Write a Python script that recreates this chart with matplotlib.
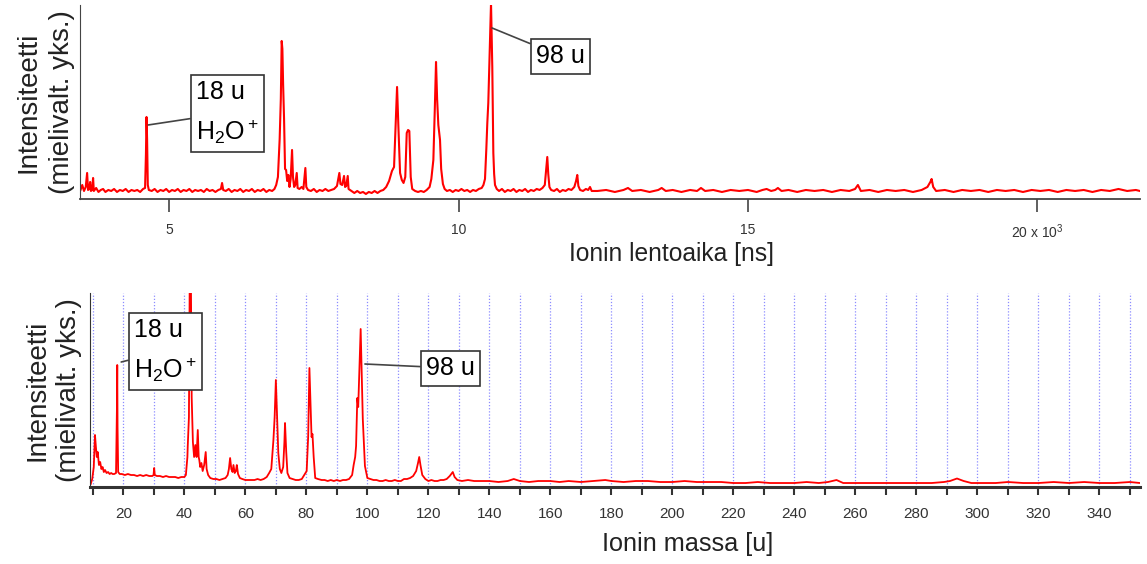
import matplotlib
matplotlib.use('Agg')
import matplotlib.pyplot as plt
from matplotlib.ticker import MultipleLocator

plt.rcParams['font.family'] = ['Liberation Sans', 'DejaVu Sans']
plt.rcParams['mathtext.fontset'] = 'custom'
plt.rcParams['mathtext.rm'] = 'Liberation Sans'
plt.rcParams['mathtext.it'] = 'Liberation Sans:italic'
plt.rcParams['mathtext.bf'] = 'Liberation Sans:bold'

# flight time spectrum (ns, arbitrary intensity)
tof_time = [
    3470, 3500, 3530, 3560, 3584, 3600, 3620, 3636, 3650, 3670, 3687, 3700, 3740, 3780, 3820, 3860,
    3900, 3950, 4000, 4050, 4100, 4150, 4200, 4250, 4300, 4350, 4400, 4450, 4500, 4550, 4585, 4600,
    4610, 4620, 4632, 4650, 4700, 4750, 4800, 4850, 4900, 4950, 5000, 5050, 5100, 5150, 5200, 5250,
    5300, 5350, 5400, 5450, 5500, 5550, 5600, 5650, 5700, 5750, 5800, 5850, 5895, 5915, 5935, 5980,
    6030, 6080, 6130, 6180, 6230, 6280, 6330, 6380, 6430, 6480, 6530, 6580, 6630, 6680, 6730, 6780,
    6820, 6850, 6880, 6910, 6930, 6945, 6957, 6970, 6986, 7003, 7021, 7040, 7060, 7080, 7100, 7124,
    7140, 7160, 7180, 7205, 7220, 7250, 7290, 7320, 7354, 7370, 7400, 7450, 7500, 7550, 7600, 7650,
    7700, 7750, 7800, 7850, 7900, 7941, 7960, 7990, 8022, 8040, 8060, 8086, 8100, 8150, 8200, 8250,
    8300, 8350, 8400, 8450, 8500, 8550, 8600, 8650, 8700, 8750, 8800, 8850, 8886, 8921, 8938, 8960,
    8990, 9020, 9050, 9080, 9105, 9128, 9150, 9174, 9200, 9250, 9300, 9350, 9400, 9450, 9500, 9530,
    9565, 9590, 9611, 9630, 9651, 9680, 9700, 9730, 9760, 9800, 9850, 9900, 9950, 10000, 10050, 10100,
    10150, 10200, 10250, 10300, 10350, 10400, 10430, 10457, 10480, 10497, 10514, 10531, 10561, 10583,
    10601, 10615, 10630, 10660, 10700, 10750, 10800, 10850, 10900, 10950, 11000, 11050, 11100, 11150,
    11200, 11250, 11300, 11350, 11400, 11450, 11490, 11515, 11533, 11550, 11570, 11600, 11650, 11700,
    11750, 11800, 11850, 11900, 11950, 12000, 12030, 12051, 12070, 12100, 12150, 12200, 12240, 12271,
    12300, 12400, 12550, 12700, 12850, 12927, 13000, 13150, 13300, 13450, 13509, 13580, 13700, 13850,
    14000, 14120, 14188, 14260, 14400, 14550, 14700, 14850, 15000, 15150, 15250, 15322, 15400, 15470,
    15517, 15580, 15700, 15850, 16000, 16150, 16300, 16450, 16600, 16750, 16850, 16899, 16950, 17100,
    17250, 17400, 17550, 17700, 17850, 18000, 18100, 18150, 18172, 18200, 18250, 18400, 18550, 18700,
    18850, 19000, 19150, 19300, 19450, 19600, 19750, 19900, 20050, 20200, 20350, 20500, 20650, 20800,
    20950, 21100, 21250, 21400, 21550, 21700, 21770,
]
tof_intensity = [
    9, 14, 8, 12, 26, 9, 10, 17, 8, 9, 21, 8, 11, 7, 9, 10,
    7, 9, 8, 10, 7, 9, 8, 10, 7, 9, 8, 9, 7, 10, 11, 45,
    82, 60, 14, 9, 8, 10, 7, 9, 8, 10, 7, 9, 8, 10, 7, 9,
    8, 10, 7, 9, 8, 9, 7, 10, 8, 9, 7, 9, 10, 16, 9, 8,
    10, 7, 9, 8, 10, 7, 9, 8, 10, 7, 9, 8, 10, 7, 9, 8,
    10, 14, 22, 60, 100, 158, 150, 114, 80, 30, 29, 18, 24, 12, 20, 49,
    22, 12, 14, 26, 11, 10, 12, 10, 31, 12, 9, 8, 10, 7, 9, 8,
    10, 8, 9, 10, 13, 26, 15, 14, 23, 12, 13, 23, 10, 8, 6, 8,
    6, 7, 5, 7, 6, 8, 6, 8, 9, 12, 18, 28, 32, 86, 112, 74,
    26, 19, 16, 22, 66, 69, 68, 22, 10, 8, 7, 8, 7, 9, 12, 20,
    39, 90, 137, 100, 74, 59, 30, 15, 10, 8, 9, 7, 9, 8, 10, 8,
    9, 7, 9, 8, 10, 11, 14, 20, 50, 76, 96, 132, 196, 132,
    46, 25, 14, 10, 8, 10, 7, 9, 8, 10, 7, 9, 8, 10,
    7, 9, 8, 10, 9, 11, 14, 30, 42, 25, 12, 9, 8, 10,
    7, 9, 8, 10, 9, 12, 18, 24, 13, 9, 8, 10, 9, 12,
    8, 8, 9, 7, 9, 11, 8, 9, 7, 9, 11, 8, 9, 7,
    9, 8, 11, 8, 9, 7, 9, 8, 9, 7, 9, 10, 8, 9,
    11, 8, 9, 7, 9, 8, 9, 7, 9, 8, 10, 14, 8, 9,
    7, 9, 8, 9, 7, 9, 12, 17, 20, 12, 8, 9, 7, 9,
    8, 9, 7, 9, 8, 9, 7, 9, 8, 9, 7, 9, 8, 9,
    7, 9, 8, 10, 8, 9, 8,
]

# mass spectrum (u, arbitrary intensity)
mass = [
    9.3, 9.8, 10.3, 10.7, 11.0, 11.3, 11.6, 12.0, 12.4, 12.8, 13.2, 13.6, 14.0, 14.5, 15.0, 15.5,
    16.0, 16.5, 17.0, 17.6, 17.9, 18.0, 18.1, 18.3, 18.8, 19.5, 20.5, 21.5, 22.5, 23.5, 24.5, 25.5,
    26.5, 27.5, 28.5, 29.5, 29.9, 30.1, 30.3, 31, 32, 33, 34, 35, 36, 37, 38, 39,
    40, 40.5, 41.0, 41.1, 41.5, 41.8, 42.1, 42.4, 42.8, 43.2, 43.6, 44.0, 44.4, 44.7, 44.9, 45.2,
    45.6, 46.0, 46.5, 47.0, 47.3, 47.8, 48.5, 49.5, 50.5, 51.5, 52.5, 53.5, 54.2, 54.6, 55.0, 55.4,
    55.8, 56.1, 56.5, 56.9, 57.2, 57.6, 58.2, 59, 60, 61, 62, 63, 64, 65, 66, 67,
    67.8, 68.5, 69.2, 69.6, 70.0, 70.3, 70.8, 71.3, 71.8, 72.4, 72.8, 73.0, 73.4, 73.8, 74.5, 75.5,
    76.5, 77.5, 78.5, 79.3, 80.1, 80.6, 81.0, 81.4, 81.7, 82.0, 82.4, 82.9, 83.8, 85, 86, 87,
    88, 89, 90, 91, 92, 93, 94, 95, 95.5, 96.0, 96.3, 96.7, 97.0, 97.4, 97.8, 98.1,
    98.5, 99.2, 100.0, 101, 102, 103, 104, 105, 106, 107, 108, 109, 110, 111, 112, 113,
    114, 115, 116, 116.6, 117.0, 117.4, 118, 119, 120, 121, 122, 123, 124, 125, 126, 127,
    128, 128.6, 129.5, 131, 133, 135, 137, 140, 143, 146, 148, 150, 153, 156, 160, 163,
    166, 170, 174, 178, 180, 184, 188, 192, 196, 200, 204, 208, 212, 216, 220, 224,
    228, 232, 236, 240, 244, 248, 251, 253.8, 256, 260, 265, 270, 275, 280, 285, 289,
    291, 293.3, 295.5, 298, 302, 306, 310, 315, 320, 325, 330, 335, 340, 345, 350, 353.3,
]
mass_intensity = [
    3, 8, 20, 52, 40, 30, 35, 22, 25, 18, 20, 15, 17, 14, 15, 13,
    14, 13, 13, 14, 80, 122, 60, 15, 13, 13, 12, 13, 12, 12, 11, 12,
    11, 12, 11, 11, 12, 19, 12, 11, 11, 10, 11, 10, 10, 10, 9, 10,
    10, 12, 30, 40, 70, 230, 230, 90, 45, 30, 42, 30, 57, 30, 27, 20,
    24, 16, 22, 35, 18, 12, 9, 8, 8, 7, 8, 9, 12, 18, 29, 18,
    15, 22, 14, 16, 22, 13, 9, 8, 7, 7, 7, 7, 8, 7, 8, 10,
    14, 18, 47, 70, 107, 80, 34, 18, 14, 20, 45, 64, 35, 14, 9, 8,
    7, 7, 8, 12, 16, 51, 119, 80, 50, 53, 30, 9, 8, 7, 7, 6,
    7, 6, 7, 6, 7, 7, 8, 12, 22, 30, 41, 89, 80, 120, 158, 120,
    68, 21, 9, 8, 7, 7, 6, 6, 7, 6, 6, 7, 6, 6, 8, 8,
    9, 11, 16, 24, 30, 22, 12, 8, 6, 7, 6, 6, 7, 7, 8, 11,
    15, 10, 7, 6, 7, 6, 6, 6, 5, 6, 8, 6, 5, 6, 6, 5,
    6, 5, 6, 7, 6, 5, 6, 6, 5, 5, 6, 5, 5, 5, 4, 4,
    5, 4, 4, 4, 5, 4, 5, 7, 4, 4, 4, 4, 4, 4, 4, 5,
    6, 8.5, 6, 4, 4, 4, 5, 4, 4, 5, 4, 5, 4, 4, 5, 4,
]

tof_ticks = [5000, 10000, 15000, 20000]
tof_tick_labels = ['5', '10', '15', '20 x 10$^3$']

peak_18_label = '18 u\nH$_2$O$^+$'
peak_98_label = '98 u'
ylabel = 'Intensiteetti\n(mielivalt. yks.)'

red = '#ff0000'
box = dict(boxstyle='square,pad=0.22', fc='white', ec='#333333', lw=1.2)
leader = dict(arrowstyle='-', color='#444444', lw=1.2, shrinkA=0, shrinkB=0)

fig = plt.figure(figsize=(11.47, 5.64), dpi=100)

# top: flight time
ax1 = fig.add_axes([0.0697, 0.6472, 0.9241, 0.344])
ax1.plot(tof_time, tof_intensity, color=red, lw=1.5)
ax1.set_xlim(3460, 21770)
ax1.set_ylim(0, 194)
ax1.spines['top'].set_visible(False)
ax1.spines['right'].set_visible(False)
ax1.spines['left'].set_color('#444444')
ax1.spines['bottom'].set_color('#444444')
ax1.spines['bottom'].set_linewidth(1.3)
ax1.set_yticks([])
ax1.set_xticks(tof_ticks)
ax1.set_xticklabels(tof_tick_labels, fontsize=10, color='#333333')
ax1.tick_params(axis='x', length=9, width=1.2, color='#444444', pad=8)
ax1.set_xlabel('Ionin lentoaika [ns]', fontsize=17.7, color='#222222')
ax1.xaxis.set_label_coords(0.558, -0.222)
ax1.set_ylabel(ylabel, fontsize=20, linespacing=1.35, color='#222222')
ax1.yaxis.set_label_coords(-0.005, 0.5)
ax1.annotate(peak_18_label, xy=(4640, 74), xytext=(196, 451), textcoords='figure pixels',
             ha='left', va='center', multialignment='left', fontsize=18, linespacing=1.65,
             bbox=box, arrowprops=leader)
ax1.annotate(peak_98_label, xy=(10578, 171), xytext=(536, 508), textcoords='figure pixels',
             ha='left', va='center', fontsize=18, bbox=box, arrowprops=leader)

# bottom: mass
ax2 = fig.add_axes([0.0785, 0.1365, 0.9154, 0.344])
ax2.plot(mass, mass_intensity, color=red, lw=1.3)
ax2.set_xlim(9.08, 353.3)
ax2.set_ylim(0, 194)
ax2.spines['top'].set_visible(False)
ax2.spines['right'].set_visible(False)
ax2.spines['left'].set_color('#333333')
ax2.spines['bottom'].set_color('#333333')
ax2.spines['bottom'].set_linewidth(2.2)
ax2.set_yticks([])
ax2.xaxis.set_major_locator(MultipleLocator(20))
ax2.xaxis.set_minor_locator(MultipleLocator(10))
ax2.tick_params(axis='x', which='both', length=6, width=1.5, color='#333333', pad=8.5,
                labelsize=11, labelcolor='#333333')
ax2.grid(axis='x', which='both', color='#8c8cff', linestyle=(0, (1, 1.5)), lw=0.9)
ax2.set_axisbelow(True)
ax2.set_xlabel('Ionin massa [u]', fontsize=18.2, color='#222222')
ax2.xaxis.set_label_coords(0.569, -0.232)
ax2.set_ylabel(ylabel, fontsize=20, linespacing=1.3, color='#222222')
ax2.yaxis.set_label_coords(-0.0076, 0.5)
ax2.annotate(peak_18_label, xy=(19.3, 125), xytext=(134, 213), textcoords='figure pixels',
             ha='left', va='center', multialignment='left', fontsize=18, linespacing=1.65,
             bbox=box, arrowprops=leader)
ax2.annotate(peak_98_label, xy=(99.2, 123), xytext=(426, 196), textcoords='figure pixels',
             ha='left', va='center', fontsize=18, bbox=box, arrowprops=leader)

fig.savefig('out.png', dpi=100)
